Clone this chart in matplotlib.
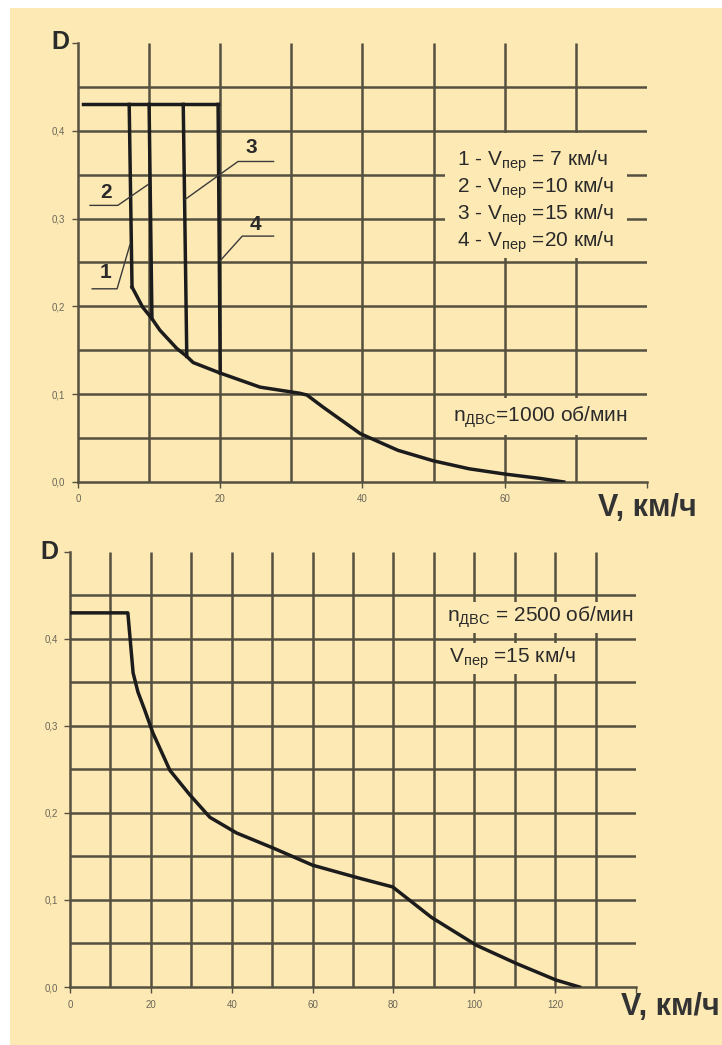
import matplotlib
matplotlib.use("Agg")
import matplotlib.pyplot as plt
from matplotlib.patches import Rectangle

plt.rcParams['font.family'] = ['Liberation Sans', 'DejaVu Sans']

BG = '#fde9b4'
GRID = '#55503f'
INK = '#1c1c1c'

# ---- top chart: n = 1000 rpm, four shift speeds ----
top_v = [7.6, 9.1, 10.4, 11.5, 13.9, 15.3, 16.2, 20.0, 25.6, 31.2, 32.2, 34.5, 39.7, 45.0, 50.0, 55.0, 60.0, 65.0, 68.3]
top_D = [0.222, 0.199, 0.186, 0.173, 0.152, 0.143, 0.136, 0.124, 0.108, 0.101, 0.099, 0.085, 0.055, 0.036, 0.024, 0.015, 0.009, 0.004, 0.0]
D_max = 0.43
plateau_start = 0.7
drop_top_v = [7.2, 10.0, 14.8, 19.7]
drop_bot_v = [7.6, 10.4, 15.3, 20.0]
drop_bot_D = [0.222, 0.186, 0.143, 0.124]
shift_labels = ['1', '2', '3', '4']
legend_lines = ['1 - V$_{\\mathregular{пер}}$ = 7 км/ч',
                '2 - V$_{\\mathregular{пер}}$ =10 км/ч',
                '3 - V$_{\\mathregular{пер}}$ =15 км/ч',
                '4 - V$_{\\mathregular{пер}}$ =20 км/ч']

# ---- bottom chart: n = 2500 rpm ----
bot_v = [0.3, 14.3, 15.6, 16.8, 18.5, 20.5, 24.7, 29.6, 34.6, 41.2, 50.1, 60.0, 71.6, 79.8, 89.4, 100.5, 110.4, 120.2, 126.0]
bot_D = [0.43, 0.43, 0.361, 0.339, 0.318, 0.292, 0.249, 0.221, 0.195, 0.177, 0.160, 0.140, 0.125, 0.115, 0.080, 0.048, 0.027, 0.008, 0.0]

y_ticks = [0.0, 0.1, 0.2, 0.3, 0.4, 0.5]
y_ticklabels = ['0,0', '0,1', '0,2', '0,3', '0,4', '']
y_grid = [0.05, 0.10, 0.15, 0.20, 0.25, 0.30, 0.35, 0.40, 0.45]


def setup_axes(ax, xmax, xstep_grid, xstep_label):
    ax.set_facecolor('none')
    ax.set_xlim(0, xmax)
    ax.set_ylim(0, 0.5)
    for s in ['top', 'right']:
        ax.spines[s].set_visible(False)
    for s in ['left', 'bottom']:
        ax.spines[s].set_color(GRID)
        ax.spines[s].set_linewidth(1.8)
    xt = list(range(0, xmax + 1, xstep_label))
    ax.set_xticks(xt)
    ax.set_xticklabels([str(v) if v < xmax else '' for v in xt])
    ax.set_yticks(y_ticks)
    ax.set_yticklabels(y_ticklabels)
    ax.tick_params(length=4, width=1, color=GRID, labelsize=7, labelcolor='#6a6658', pad=5)
    xg = list(range(xstep_grid, xmax, xstep_grid))
    ax.vlines(xg, 0, 0.5, color=GRID, lw=1.8, zorder=1)
    ax.hlines(y_grid, 0, xmax, color=GRID, lw=1.8, zorder=1)


fig = plt.figure(figsize=(7.22, 10.45), dpi=100, facecolor='white')
fig.patches.append(Rectangle((10 / 722, 0), 1, 1 - 8 / 1045, transform=fig.transFigure,
                             facecolor=BG, edgecolor='none', zorder=-10))

# top
ax1 = fig.add_axes([0.108, 0.5388, 0.788, 0.4201])
setup_axes(ax1, 80, 10, 20)
ax1.plot([plateau_start, drop_top_v[-1]], [D_max, D_max], color=INK, lw=2.5, zorder=4)
for x0, x1, d1 in zip(drop_top_v, drop_bot_v, drop_bot_D):
    ax1.plot([x0, x1], [D_max, d1], color=INK, lw=2.5, zorder=4)
ax1.plot(top_v, top_D, color=INK, lw=2.5, zorder=4)

# leader lines for 1-4: (label pos, underline x0, x1, y, end point)
leaders = [((3.8, 0.239), 2.0, 5.5, 0.220, (7.3, 0.270)),
           ((3.9, 0.330), 1.7, 5.6, 0.315, (9.9, 0.339)),
           ((24.4, 0.381), 22.5, 27.5, 0.365, (15.1, 0.322)),
           ((24.9, 0.293), 23.1, 27.5, 0.280, (20.0, 0.252))]
for lab, (pos, ux0, ux1, uy, end) in zip(shift_labels, leaders):
    ax1.text(pos[0], pos[1], lab, fontsize=15, fontweight='bold', color='#2a2a2a',
             ha='center', va='center', zorder=6)
    if end[0] > ux1:
        ax1.plot([ux0, ux1, end[0]], [uy, uy, end[1]], color='#3a3a3a', lw=1, zorder=5)
    else:
        ax1.plot([ux1, ux0, end[0]], [uy, uy, end[1]], color='#3a3a3a', lw=1, zorder=5)

ax1.add_patch(Rectangle((51.6, 0.255), 25.6, 0.142, facecolor=BG, edgecolor='none', zorder=2))
for i, line in enumerate(legend_lines):
    ax1.text(53.3, 0.366 - i * 0.031, line, fontsize=15, color='#2a2a2a', va='center', zorder=6)
ax1.add_patch(Rectangle((51.6, 0.054), 27.5, 0.042, facecolor=BG, edgecolor='none', zorder=2))
ax1.text(52.7, 0.074, 'n$_{\\mathregular{ДВС}}$=1000 об/мин', fontsize=15, color='#2a2a2a',
         va='center', zorder=6)

fig.text(51 / 722, 1 - 42 / 1045, 'D', fontsize=18, fontweight='bold', color='#2a2a2a',
         va='center', ha='left')
fig.text(598 / 722, 1 - 508 / 1045, 'V, км/ч', fontsize=22, fontweight='bold', color='#333333',
         va='center', ha='left')

# bottom
ax2 = fig.add_axes([0.097, 0.0555, 0.784, 0.4163])
setup_axes(ax2, 140, 10, 20)
ax2.plot(bot_v, bot_D, color=INK, lw=2.5, zorder=4)
ax2.text(93.3, 0.425, 'n$_{\\mathregular{ДВС}}$ = 2500 об/мин', fontsize=15, color='#2a2a2a',
         va='center', zorder=6,
         bbox=dict(boxstyle='square,pad=0.12', facecolor=BG, edgecolor='none'))
ax2.text(93.8, 0.378, 'V$_{\\mathregular{пер}}$ =15 км/ч', fontsize=15, color='#2a2a2a',
         va='center', zorder=6,
         bbox=dict(boxstyle='square,pad=0.12', facecolor=BG, edgecolor='none'))

fig.text(40 / 722, 1 - 552 / 1045, 'D', fontsize=18, fontweight='bold', color='#2a2a2a',
         va='center', ha='left')
fig.text(621 / 722, 1 - 1007 / 1045, 'V, км/ч', fontsize=22, fontweight='bold', color='#333333',
         va='center', ha='left')

fig.savefig('out.png', dpi=100, facecolor=fig.get_facecolor())
